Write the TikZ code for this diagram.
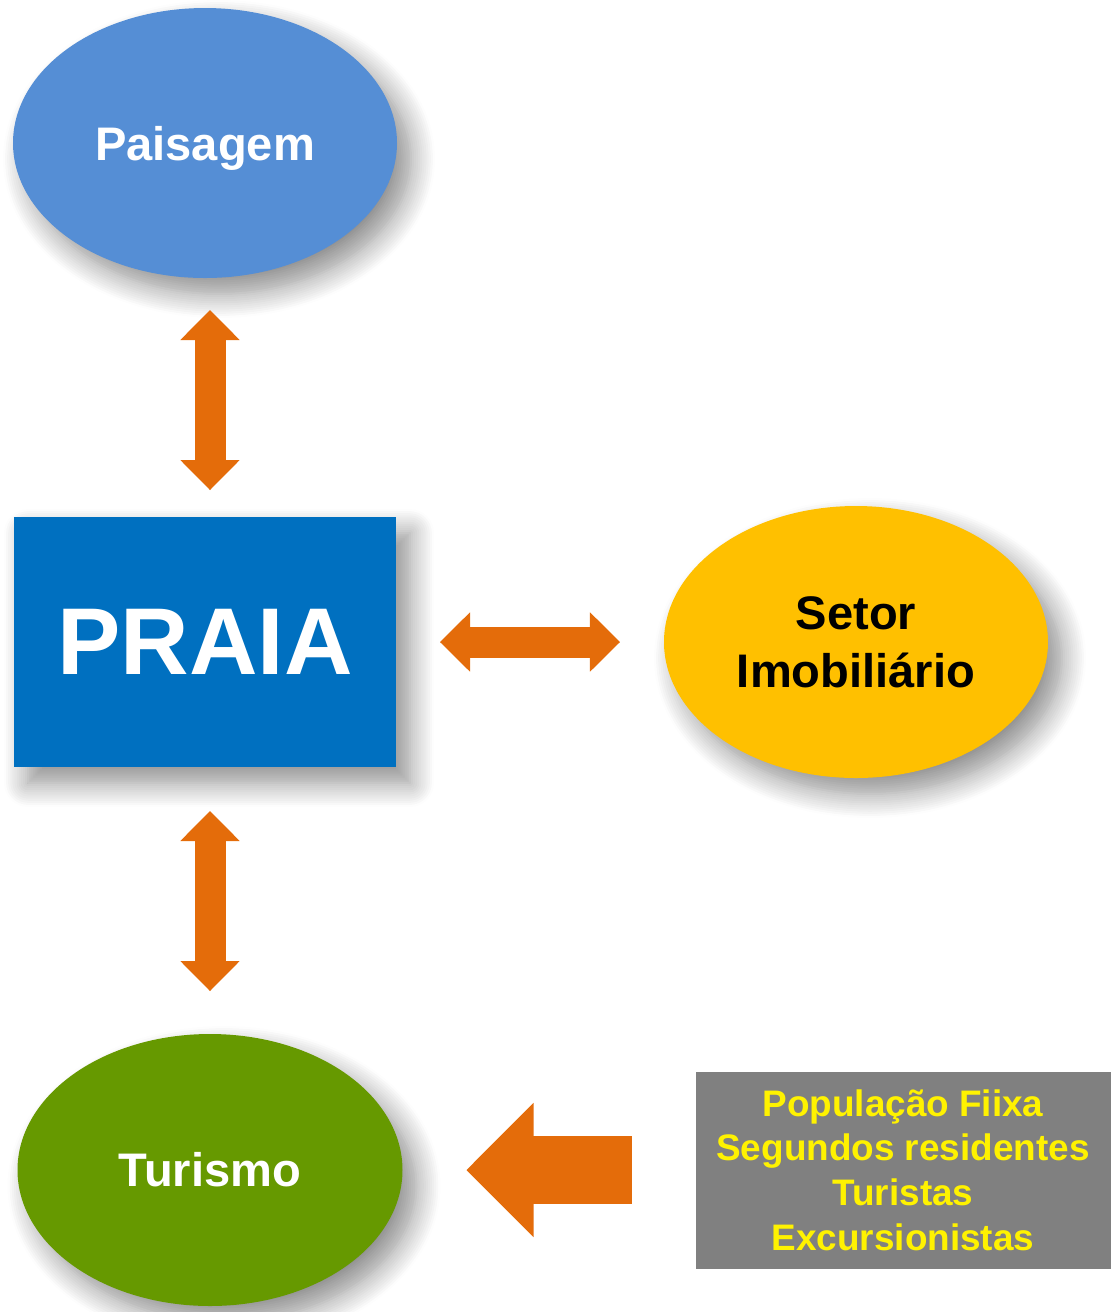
\documentclass[tikz,border=0pt]{standalone}
\usepackage{fontspec}
\setmainfont{Liberation Sans}
\usetikzlibrary{shapes.geometric, arrows.meta, positioning, calc, shadows.blur}
\definecolor{skyblue}{RGB}{85,142,213}
\definecolor{praiablue}{RGB}{0,112,192}
\definecolor{burntorange}{RGB}{228,108,10}
\definecolor{gold}{RGB}{255,192,0}
\definecolor{olivegreen}{RGB}{102,153,0}
\definecolor{boxgray}{RGB}{128,128,128}

\begin{document}
\begin{tikzpicture}[
    soft/.style={blur shadow={shadow xshift=0.14cm, shadow yshift=-0.16cm, shadow blur radius=0.24cm, shadow blur steps=12, shadow opacity=45}},
    bubble/.style={ellipse, soft, minimum width=3.84cm, minimum height=2.71cm, inner sep=0pt, outer sep=0pt, align=center, font=\bfseries\fontsize{13.4}{16.5}\selectfont},
    fatarrow/.style={draw=burntorange, line width=0.31cm, >={Triangle[length=0.3cm, width=0.59cm, line width=0.6pt]}, <->},
    bigarrow/.style={draw=burntorange, line width=0.68cm, -{Triangle[length=0.67cm, width=1.34cm, line width=0.6pt]}}
]
\useasboundingbox (0,0) rectangle (11.15,-13.12);

% Centre
\node[rectangle, soft, fill=praiablue, text=white, minimum width=3.82cm, minimum height=2.5cm, outer sep=0pt, font=\bfseries\fontsize{27}{32}\selectfont] (praia) at (2.05,-6.42) {PRAIA};

% Landscape
\node[bubble, fill=skyblue, text=white, text depth=0pt, above=2.39cm of praia, minimum height=2.7cm] (paisagem) {Paisagem};

% Real estate
\node[bubble, fill=gold, right=2.68cm of praia, minimum height=2.72cm] (setor) {Setor\\Imobiliário};

% Tourism
\node[bubble, fill=olivegreen, text=white, below=2.67cm of praia, xshift=0.05cm, minimum width=3.85cm, minimum height=2.72cm] (turismo) {Turismo};

% Population
\node[rectangle, fill=boxgray, text=yellow, right=2.93cm of turismo, minimum width=4.15cm, minimum height=1.97cm, outer sep=0pt, align=center, font=\bfseries\fontsize{10.5}{12.7}\selectfont] (pop) {População Fiixa\\Segundos residentes\\Turistas\hspace*{0.1cm}\\Excursionistas};

% Arrows
\draw[fatarrow, shorten <=0.32cm, shorten >=0.27cm] ([xshift=0.05cm]paisagem.south) -- ([xshift=0.05cm]praia.north);
\draw[fatarrow, shorten <=0.44cm, shorten >=0.44cm] (praia.east) -- (setor.west);
\draw[fatarrow, shorten <=0.44cm, shorten >=0.43cm] ([xshift=0.05cm]praia.south) -- (turismo.north);
\draw[bigarrow, shorten <=0.64cm, shorten >=0.64cm] (pop.west) -- (pop.west -| turismo.east);

\end{tikzpicture}
\end{document}
